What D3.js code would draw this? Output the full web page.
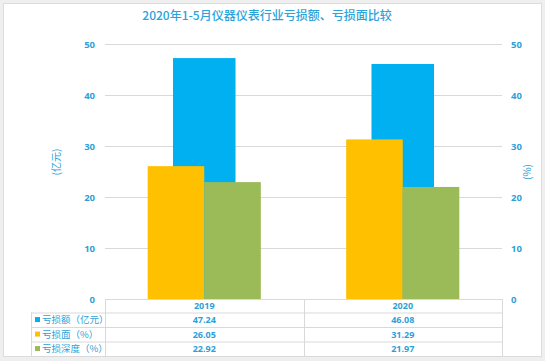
<!DOCTYPE html>
<html><head><meta charset="utf-8">
<script src="https://cdn.jsdelivr.net/npm/d3@7"></script>
<style>body{margin:0;background:#f0f0f0;} svg{display:block;font-family:"Noto Sans CJK SC","Noto Sans",sans-serif;}</style>
</head><body>
<svg id="c" width="545" height="361"></svg>
<script>
const title = "2020年1-5月仪器仪表行业亏损额、亏损面比较";
const categories = ["2019", "2020"];
const lossAmount = [47.24, 46.08];
const lossRatio = [26.05, 31.29];
const lossDepth = [22.92, 21.97];
const seriesNames = ["亏损额（亿元）", "亏损面（%）", "亏损深度（%）"];
const seriesColors = ["#00b0f0", "#ffc000", "#9bbb59"];
const yTicks = [0, 10, 20, 30, 40, 50];
const leftTitle = "(亿元)";
const rightTitle = "(%)";

const txt = "#2e9fd8";
const grid = "#d9d9d9";
const svg = d3.select("#c");
svg.append("rect").attr("x",0).attr("y",0).attr("width",545).attr("height",361).attr("fill","#efefef");
svg.append("rect").attr("x",3.5).attr("y",3.5).attr("width",538).attr("height",353).attr("fill","#fff").attr("stroke","#dcdcdc");

const L = 105, R = 502, T = 44, B = 299;
const x = d3.scaleBand().domain(categories).range([L, R]).padding(0);
const yL = d3.scaleLinear().domain([0, 50]).range([B, T]);
const yR = d3.scaleLinear().domain([0, 50]).range([B, T]);

svg.append("text").attr("x", 267).attr("y", 19.5).attr("text-anchor","middle")
  .attr("fill", "#29a3da").attr("font-size", 12).attr("font-weight", 500).text(title);

// gridlines
svg.append("g").selectAll("line").data(yTicks.filter(d=>d>0)).join("line")
  .attr("x1", L).attr("x2", R).attr("y1", d=>yL(d)+0.5).attr("y2", d=>yL(d)+0.5)
  .attr("stroke", grid).attr("stroke-width",1);

// axes
const axL = svg.append("g").attr("transform",`translate(${L},0)`)
  .call(d3.axisLeft(yL).tickValues(yTicks).tickSize(0).tickPadding(10));
const axR = svg.append("g").attr("transform",`translate(${R},0)`)
  .call(d3.axisRight(yR).tickValues(yTicks).tickSize(0).tickPadding(9));
[axL, axR].forEach(a => {
  a.select(".domain").remove();
  a.selectAll("text").attr("fill", txt).attr("font-size", 9.5).attr("font-weight","bold")
    .attr("font-family","Open Sans, sans-serif");
});

svg.append("text").attr("transform","translate(60,162) rotate(-90)").attr("text-anchor","middle")
  .attr("fill", txt).attr("font-size", 10).text(leftTitle);
svg.append("text").attr("transform","translate(531,172) rotate(-90)").attr("text-anchor","middle")
  .attr("fill", txt).attr("font-size", 10).text(rightTitle);

// bars: primary (blue) behind, secondary pair in front
const bw = x.bandwidth();
const blueW = bw * 0.315;
svg.append("g").selectAll("rect").data(categories).join("rect")
  .attr("x", (d)=> x(d) + bw/2 - blueW/2).attr("width", blueW)
  .attr("y", (d,i)=> yL(lossAmount[i])).attr("height", (d,i)=> B - yL(lossAmount[i]))
  .attr("fill", seriesColors[0]);
const pw = bw * 0.285;
const sub = d3.scaleBand().domain([1,2]).range([0, pw*2]);
[lossRatio, lossDepth].forEach((vals, k) => {
  svg.append("g").selectAll("rect").data(categories).join("rect")
    .attr("x", d => x(d) + bw/2 - pw + sub(k+1)).attr("width", sub.bandwidth())
    .attr("y", (d,i)=> yR(vals[i])).attr("height", (d,i)=> B - yR(vals[i]))
    .attr("fill", seriesColors[k+1]);
});

// data table
const rowsY = [299, 312.5, 327, 341.5, 356];
const LL = 31;
const tg = svg.append("g").attr("stroke", grid).attr("stroke-width",1);
tg.append("line").attr("x1",L).attr("x2",R).attr("y1",rowsY[0]+0.5).attr("y2",rowsY[0]+0.5);
rowsY.slice(1).forEach(yv => tg.append("line").attr("x1",LL).attr("x2",R).attr("y1",yv+0.5).attr("y2",yv+0.5));
[L, x(categories[1]), R].forEach(xv => tg.append("line").attr("x1",Math.round(xv)+0.5).attr("x2",Math.round(xv)+0.5).attr("y1",rowsY[0]).attr("y2",rowsY[4]));
tg.append("line").attr("x1",LL+0.5).attr("x2",LL+0.5).attr("y1",rowsY[1]).attr("y2",rowsY[4]);

const mid = i => (rowsY[i] + rowsY[i+1]) / 2 + 3.3;
categories.forEach(c => {
  svg.append("text").attr("x", x(c)+bw/2).attr("y", mid(0)).attr("text-anchor","middle")
    .attr("fill", txt).attr("font-size", 9).attr("font-weight","bold").attr("font-family","Open Sans, sans-serif").text(c);
});
[lossAmount, lossRatio, lossDepth].forEach((vals, r) => {
  svg.append("rect").attr("x", 35).attr("y", mid(r+1)-6).attr("width",5).attr("height",5).attr("fill", seriesColors[r]);
  svg.append("text").attr("x", 42).attr("y", mid(r+1)).attr("fill", txt).attr("font-size", 9.5).text(seriesNames[r]);
  categories.forEach((c,i) => {
    svg.append("text").attr("x", x(c)+bw/2).attr("y", mid(r+1)).attr("text-anchor","middle")
      .attr("fill", txt).attr("font-size", 9).attr("font-weight","bold").attr("font-family","Open Sans, sans-serif")
      .text(vals[i].toFixed(2));
  });
});
</script>
</body></html>
